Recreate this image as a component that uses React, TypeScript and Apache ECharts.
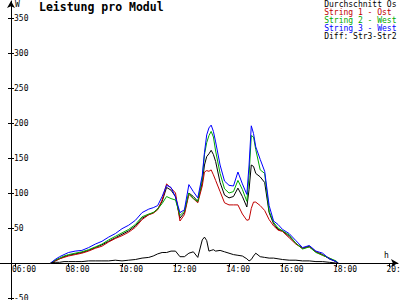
import React, { useEffect, useRef } from "react";
import * as echarts from "echarts";

const times = [
  "07:20","07:30","07:40","07:50","08:00","08:15","08:30","08:45","09:00","09:15","09:30","09:45","10:00","10:15","10:30","10:45",
  "11:00","11:10","11:20","11:30","11:40","11:50","12:00","12:10","12:20","12:30","12:40","12:50",
  "13:00","13:05","13:10","13:15","13:20","13:25","13:30","13:40","13:50","14:00","14:10","14:20","14:30","14:40","14:45","14:50","14:55","15:00","15:10","15:20","15:30","15:40",
  "15:50","16:00","16:15","16:30","16:45","17:00","17:15","17:30","17:45","18:00","18:05",
];

const avgValues = [
  0,3,6,9,11,13,15,18,22,26,31,36,41,46,53,64,
  69,72,77,88,108,104,95,64,72,100,95,88,
  115,140,152,156,161,155,145,115,97,93,95,107,95,80,105,140,138,128,123,115,72,56,
  48,46,38,28,21,24,16,12,6,2,0,
];
const string1Values = [
  0,3,6,8,10,12,14,17,21,24,30,35,39,44,51,62,
  69,71,76,90,113,107,100,60,69,98,92,86,
  110,130,132,131,133,126,118,102,86,83,83,83,70,61,62,78,87,87,82,75,62,53,
  47,45,36,27,21,23,16,11,7,2,0,
];
const string2Values = [
  0,4,7,10,12,14,16,19,23,27,33,38,43,48,55,66,
  70,72,77,85,95,92,90,68,74,100,92,88,
  120,155,172,182,188,180,160,128,106,100,102,118,105,88,125,182,180,162,133,128,74,58,
  50,46,40,28,20,23,15,11,7,3,0,
];
const string3Values = [
  0,5,9,12,15,17,18,22,27,31,37,42,49,54,61,72,
  77,79,82,95,111,108,94,72,76,112,102,93,
  125,158,183,193,197,188,173,140,117,111,110,130,113,98,140,196,185,166,148,131,82,60,
  55,48,42,32,22,25,17,14,6,2,0,
];
const diffValues = [
  0,1,1,2,2,2,2,3,3,3,3,4,3,4,5,7,
  8,10,13,15,15,17,17,9,9,14,16,8,
  33,37,32,17,18,19,17,18,16,14,12,11,10,6,3,5,10,14,9,8,7,7,
  6,5,4,4,3,3,2,2,1,0,0,
];

const xTicks = [6, 8, 10, 12, 14, 16, 18, 20];
const yTicks = [-50, 0, 50, 100, 150, 200, 250, 300, 350];
const yLabels = [-50, 50, 100, 150, 200, 250, 300, 350];

const seriesNames = ["Durchschnitt Os", "String 1 - Ost", "String 2 - West", "String 3 - West", "Diff: Str3-Str2"];
const seriesColors = ["#000000", "#c00000", "#00a800", "#0000ff", "#000000"];

const FONT = "DejaVu Sans Mono";

const toHours = (s: string) => {
  const [h, m] = s.split(":").map(Number);
  return h + m / 60;
};
const pad2 = (n: number) => (n < 10 ? "0" + n : "" + n);

export default function App() {
  const ref = useRef<HTMLDivElement>(null);
  useEffect(() => {
    if (!ref.current) return;
    const chart = echarts.init(ref.current, null, { renderer: "svg" });
    const all = [avgValues, string1Values, string2Values, string3Values, diffValues];
    const pxPerHour = 26.75;
    const xMin = 6 - 15 / pxPerHour;
    const xMax = xMin + 398 / pxPerHour;
    const pxPerW = 0.7;
    const yMax = (263 - 1) / pxPerW;
    const yMin = -(300 - 263) / pxPerW;
    const yAxisBase = {
      type: "value" as const,
      position: "left" as const,
      min: yMin,
      max: yMax,
      offset: -11,
      splitLine: { show: false },
    };
    chart.setOption({
      animation: false,
      title: {
        text: "Leistung pro Modul",
        left: 39,
        top: 1,
        padding: 0,
        textStyle: { fontFamily: FONT, fontSize: 11.5, fontWeight: "bold", color: "#000" },
      },
      legend: {
        orient: "vertical",
        left: 316,
        top: 0,
        padding: 0,
        itemWidth: 0,
        itemHeight: 8,
        itemGap: 0.1,
        itemStyle: { opacity: 0 },
        lineStyle: { opacity: 0 },
        textStyle: { fontFamily: FONT, fontSize: 8, lineHeight: 8 },
        data: seriesNames.map((n, i) => ({ name: n, textStyle: { color: seriesColors[i] } })),
      },
      grid: { left: 0, right: 2, top: 1, bottom: 0, containLabel: false, outerBoundsMode: "none" },
      xAxis: {
        type: "value",
        position: "bottom",
        offset: -37,
        min: xMin,
        max: xMax,
        splitLine: { show: false },
        axisLine: { onZero: false, lineStyle: { color: "#000", width: 1 }, symbol: ["none", "arrow"], symbolSize: [6, 7] },
        axisTick: { customValues: xTicks, length: 4, lineStyle: { color: "#000" } },
        axisLabel: {
          customValues: xTicks,
          formatter: (v: number) => pad2(Math.round(v)) + ":00",
          fontFamily: FONT,
          fontSize: 8,
          color: "#000",
          margin: 2,
          align: "center",
          padding: [0, 0, 0, 18],
        },
      },
      yAxis: [
        {
          ...yAxisBase,
          axisLine: { show: true, onZero: false, lineStyle: { color: "#000", width: 1 }, symbol: ["none", "arrow"], symbolSize: [6, 7] },
          axisTick: { show: true, inside: true, length: 3, customValues: yTicks, lineStyle: { color: "#000" } },
          axisLabel: {
            inside: true,
            customValues: yLabels,
            fontFamily: FONT,
            fontSize: 8,
            color: "#000",
            margin: 3,
          },
        },
        {
          ...yAxisBase,
          axisLine: { show: false, onZero: false },
          axisTick: { show: true, inside: false, length: 3, customValues: yTicks, lineStyle: { color: "#000" } },
          axisLabel: { show: false },
        },
      ],
      graphic: [
        { type: "text", left: 15, top: 0, style: { text: "W", fontFamily: FONT, fontSize: 8, fill: "#000" } },
        { type: "text", left: 384, top: 251, style: { text: "h", fontFamily: FONT, fontSize: 8, fill: "#000" } },
      ],
      series: all.map((vals, i) => ({
        name: seriesNames[i],
        type: "line",
        showSymbol: false,
        symbol: "none",
        yAxisIndex: 0,
        z: 2 + i,
        lineStyle: { color: seriesColors[i], width: 1 },
        itemStyle: { color: seriesColors[i] },
        data: times.map((t, k) => [toHours(t), vals[k]]),
      })),
    });
    return () => chart.dispose();
  }, []);
  return <div ref={ref} style={{ width: 400, height: 300, position: "absolute", left: 0, top: 0 }} />;
}
